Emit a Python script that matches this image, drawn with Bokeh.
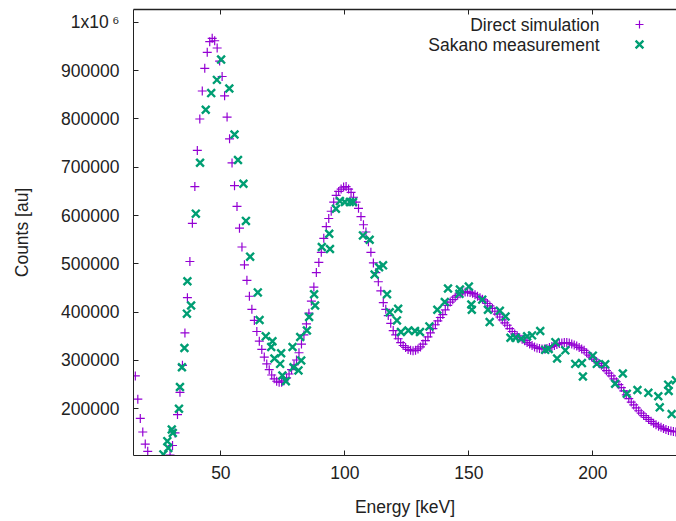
from bokeh.plotting import figure
from bokeh.models import (FixedTicker, BasicTickFormatter, Label, LinearAxis,
                          Range1d, ColumnDataSource)
from bokeh.embed import file_html
from bokeh.resources import INLINE

# ---------------- data ----------------
x_ticks = [50, 100, 150, 200]
y_ticks = [200000, 300000, 400000, 500000, 600000, 700000, 800000, 900000, 1000000]
y_tick_labels = {1000000: "1x10\u2009\u2076"}

# simulation sampled every 1 keV (bin centres); points below the axis are not drawn
sim_energy = [e + 0.5 for e in list(range(15, 21)) + list(range(29, 234))]
sim_counts = [
    268000, 220000, 180000, 152000, 127000, 112000,
    104000, 124000, 150000, 188000, 234000, 290000, 357000, 430000, 505000, 584000,
    660000, 735000, 800000, 858000, 905000, 938000, 960000, 967000, 962000, 947000,
    920000, 888000, 848000, 804000, 759000, 709000, 662000, 619000, 574000, 535000,
    498000, 466000, 433000, 406000, 383000, 360000, 340000, 323000, 307000, 293000,
    281000, 270000, 262000, 257000, 255000, 255000, 258000, 264000, 272000, 281000,
    291000, 301000, 316000, 334000, 353000, 376000, 398000, 423000, 452000, 482000,
    503000, 524000, 553000, 577000, 594000, 609000, 628000, 642000, 650000, 655000,
    659000, 660000, 655000, 648000, 638000, 628000, 615000, 598000, 581000, 566000,
    546000, 524000, 502000, 482000, 463000, 444000, 420000, 406000, 393000, 377000,
    362000, 353000, 345000, 337000, 331000, 327000, 323000, 321000, 320000, 321000,
    324000, 328000, 334000, 341000, 349000, 357000, 366000, 374000, 382000, 389000,
    395000, 405000, 414000, 421000, 426000, 431000, 435000, 438000, 440000, 442000,
    442000, 441000, 439000, 436000, 433000, 430000, 427000, 423000, 418000, 413000,
    408000, 402000, 396000, 390000, 384000, 378000, 373000, 366000, 360000, 355000,
    351000, 347000, 344000, 341000, 337000, 334000, 331000, 328000, 326000, 325000,
    324000, 324000, 325000, 327000, 329000, 331000, 333000, 335000, 336000, 337000,
    337000, 336000, 334000, 332000, 330000, 327000, 324000, 321000, 316000, 311000,
    307000, 303000, 298000, 294000, 290000, 285000, 279000, 274000, 268000, 262000,
    256000, 250000, 244000, 237000, 229000, 221000, 214000, 208000, 202000, 196000,
    191000, 186000, 182000, 178000, 174000, 170000, 167000, 164000, 162000, 159000,
    157000, 155000, 154000, 153000, 152000,
]

meas_energy = [
    26.8, 28.4, 28.8, 30.2, 30.6, 33.1, 33.5, 34.3, 35.3, 36.3,
    36.5, 38.0, 39.9, 41.6, 43.9, 46.1, 48.4, 50.1, 53.4, 55.5,
    56.9, 59.1, 60.1, 61.8, 64.9, 65.6, 68.1, 70.3, 70.8, 71.6,
    73.9, 74.3, 74.8, 76.2, 78.9, 79.3, 81.3, 82.0, 82.4, 84.7,
    85.6, 87.6, 88.0, 90.7, 93.7, 94.0, 96.4, 98.0, 100.0, 102.0,
    103.3, 107.3, 110.0, 112.0, 113.8, 115.4, 117.0, 118.1, 121.0, 121.5,
    122.6, 125.6, 128.3, 130.3, 134.1, 137.3, 140.3, 141.6, 146.2, 146.4,
    150.0, 151.0, 151.2, 155.4, 157.7, 158.4, 162.5, 164.8, 166.8, 168.8,
    171.1, 173.5, 175.5, 178.8, 180.8, 182.2, 184.9, 185.6, 188.9, 192.9,
    195.6, 196.0, 200.0, 201.6, 205.0, 209.0, 212.1, 213.7, 218.0, 222.4,
    226.4, 227.0, 230.4, 230.6, 231.8, 233.5,
]
meas_counts = [
    105600, 133000, 119000, 157000, 150000, 200000, 245000, 286000, 326000, 397000,
    464000, 414000, 604000, 709500, 819000, 853600, 881000, 923000, 863000, 768000,
    715000, 666000, 589000, 515000, 441000, 384000, 350000, 328000, 340000, 304000,
    293000, 315000, 269000, 257000, 328000, 286000, 279500, 348500, 300000, 362000,
    390000, 437000, 414000, 535000, 562500, 531000, 614000, 630000, 628000, 628000,
    628000, 559000, 550000, 478000, 493000, 497000, 437000, 400000, 383000, 407000,
    359000, 362000, 361000, 359000, 370600, 405000, 421000, 449000, 438000, 447000,
    453000, 416000, 405000, 426000, 405000, 379500, 403000, 391000, 347000, 347000,
    345000, 350000, 352000, 361000, 322000, 324000, 338000, 304000, 321000, 293000,
    294600, 267000, 310000, 293000, 292000, 252000, 273000, 231000, 239000, 233000,
    226000, 203000, 250000, 237000, 189000, 259000,
]

series_names = ["Direct simulation", "Sakano measurement"]

# ---------------- layout ----------------
W, H = 676, 521
FL, FT, FB, FR = 133, 9, 66, 0
x_start, x_end = 14.76, 233.75
y_start, y_end = 103300, 1026700

FONT = "Liberation Sans"
FS = "17.5px"
TXT = "#222222"
SIM_C = "#9400d3"
MEAS_C = "#009e73"

p = figure(width=W, height=H, output_backend="svg", toolbar_location=None,
           title_location=None,
           x_range=Range1d(x_start, x_end), y_range=Range1d(y_start, y_end),
           min_border_left=FL, min_border_right=FR, min_border_top=FT,
           min_border_bottom=FB,
           x_axis_label="Energy [keV]", y_axis_label="Counts [au]")
p.outline_line_color = None
p.xgrid.visible = False
p.ygrid.visible = False
p.background_fill_color = "white"
p.border_fill_color = "white"

for ax in (p.xaxis[0], p.yaxis[0]):
    ax.major_tick_in = 5
    ax.major_tick_out = 0
    ax.minor_tick_in = 0
    ax.minor_tick_out = 0
    ax.axis_line_color = TXT
    ax.major_tick_line_color = TXT
    ax.major_label_text_font = FONT
    ax.major_label_text_font_size = FS
    ax.major_label_text_color = TXT
    ax.axis_label_text_font = FONT
    ax.axis_label_text_font_size = FS
    ax.axis_label_text_font_style = "normal"
    ax.axis_label_text_color = TXT

p.xaxis.ticker = FixedTicker(ticks=x_ticks)
p.yaxis.ticker = FixedTicker(ticks=y_ticks)
p.yaxis.formatter = BasicTickFormatter(use_scientific=False)
p.yaxis.major_label_overrides = y_tick_labels
p.xaxis.major_label_standoff = 10
p.yaxis.major_label_standoff = 14
p.xaxis.axis_label_standoff = 15
p.yaxis.axis_label_standoff = 26

# top border: an unlabelled mirror axis with inward ticks
top_axis = LinearAxis(ticker=FixedTicker(ticks=x_ticks),
                      major_label_overrides={t: " " for t in x_ticks},
                      major_label_text_font_size="1px",
                      major_label_standoff=0,
                      major_tick_in=5, major_tick_out=0,
                      minor_tick_in=0, minor_tick_out=0,
                      axis_line_color=TXT, axis_line_width=1.3,
                      major_tick_line_color=TXT)
p.add_layout(top_axis, "above")

fw = W - FL - FR
fh = H - FT - FB
def sx(px):
    return x_start + (px - FL) / fw * (x_end - x_start)
def sy(py):
    return y_end - (py - FT) / fh * (y_end - y_start)

# ---------------- data marks ----------------
sim_src = ColumnDataSource(dict(x=sim_energy, y=sim_counts))
meas_src = ColumnDataSource(dict(x=meas_energy, y=meas_counts))
p.scatter("x", "y", source=sim_src, marker="cross", size=9,
          line_color=SIM_C, line_width=1.2)
p.scatter("x", "y", source=meas_src, marker="x", size=11,
          line_color=MEAS_C, line_width=2.4)

# ---------------- key (text right-justified, sample on the right) ----------------
key_rows = [24, 44]
for name, row in zip(series_names, key_rows):
    p.add_layout(Label(x=x_end, y=y_end, x_offset=-77, y_offset=-(row - FT),
                       text=name, text_align="right", text_baseline="middle",
                       text_font=FONT, text_font_size=FS, text_color=TXT))
p.scatter([sx(639)], [sy(key_rows[0])], marker="cross", size=8,
          line_color=SIM_C, line_width=1.2)
p.scatter([sx(639)], [sy(key_rows[1])], marker="x", size=11,
          line_color=MEAS_C, line_width=2.4)

open("out.html", "w").write(file_html(p, INLINE))
